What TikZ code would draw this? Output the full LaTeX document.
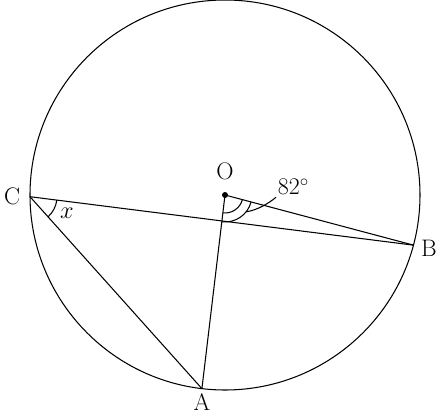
\documentclass[tikz,border=0pt]{standalone}
\usepackage{tikz}
\usetikzlibrary{positioning,calc}

\begin{document}
\begin{tikzpicture}[x=0.025cm, y=0.025cm, line width=0.75pt, font=\fontsize{17}{20}\selectfont]
    \useasboundingbox (-225,-220) rectangle (215,195);
    % Circle
    \coordinate (O) at (0,0);
    \draw (O) circle (195);

    % Points on the circle
    \coordinate (C) at (180.5:195);
    \coordinate (A) at (263.2:195);
    \coordinate (B) at (345.1:195);

    % Chords and radii
    \draw (C) -- (B);
    \draw (C) -- (A);
    \draw (O) -- (A);
    \draw (O) -- (B);
    \fill (O) circle (3);

    % Angle at the centre
    \draw ($(O)+(263.2:18)$) arc (263.2:345.1:18);
    \draw ($(O)+(263.2:27)$) arc (263.2:345.1:27);
    \coordinate (lead) at (321.4:27);
    \node[anchor=west, inner sep=1pt] (deg) at (51,8) {82$^\circ$};
    \draw (lead) .. controls (33,-15) and (44,-8) .. (deg.south west);

    % Angle at C
    \draw ($(C)+(-48.2:27)$) arc (-48.2:-7.2:27);
    \node (xlab) at (-158,-18) {$x$};

    % Labels
    \node (Olab) at (0,24) {O};
    \node (Clab) at (-213,-1) {C};
    \node (Blab) at (204,-53) {B};
    \node (Alab) at (-23,-207) {A};
\end{tikzpicture}
\end{document}
